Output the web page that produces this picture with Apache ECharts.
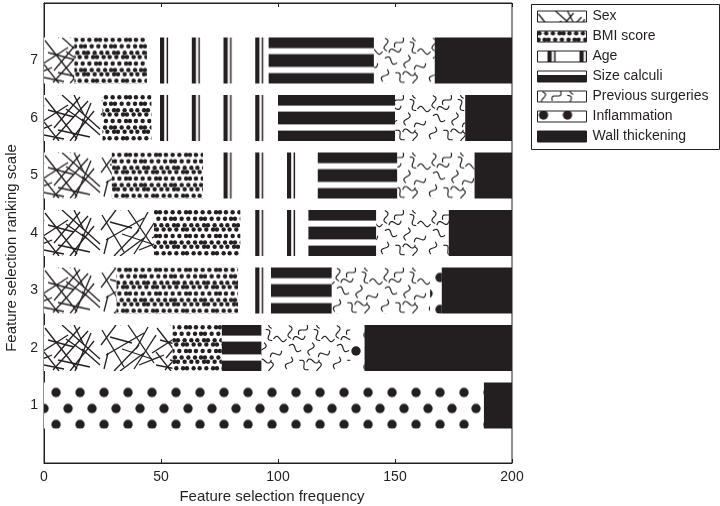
<!DOCTYPE html>
<html>
<head>
<meta charset="utf-8">
<script src="https://cdn.jsdelivr.net/npm/echarts@6/dist/echarts.min.js"></script>
<style>
html,body{margin:0;padding:0;background:#fff;}
#main{width:720px;height:506px;}
</style>
</head>
<body>
<div id="main"></div>
<script>
// ---------- data ----------
const categories = ['1', '2', '3', '4', '5', '6', '7'];
const seriesNames = ['Sex', 'BMI score', 'Age', 'Size calculi', 'Previous surgeries', 'Inflammation', 'Wall thickening'];
const sexValues          = [0, 55, 31, 47, 29, 25, 13];
const bmiValues          = [0, 21, 52, 37, 39, 21, 31];
const ageValues          = [0, 0, 14, 29, 49, 54, 52];
const sizeCalculiValues  = [0, 17, 26, 29, 34, 50, 45];
const prevSurgeryValues  = [0, 38, 42, 31, 33, 30, 26];
const inflammationValues = [188, 6, 5, 0, 0, 0, 0];
const wallValues         = [12, 63, 30, 27, 16, 20, 33];
const xTicks = [0, 50, 100, 150, 200];
const xAxisTitle = 'Feature selection frequency';
const yAxisTitle = 'Feature selection ranking scale';

const allValues = [sexValues, bmiValues, ageValues, sizeCalculiValues, prevSurgeryValues, inflammationValues, wallValues];
const PAD_LO = 'padLo', PAD_HI = 'padHi';
const yAxisData = [PAD_LO].concat(categories, [PAD_HI]);

// ---------- textures ----------
const INK = '#231f20';
const FONT = "'Liberation Sans', Arial, sans-serif";

function makeTile(w, h, draw) {
  const c = document.createElement('canvas');
  c.width = w; c.height = h;
  const g = c.getContext('2d');
  g.fillStyle = '#fff';
  g.fillRect(0, 0, w, h);
  g.strokeStyle = INK; g.fillStyle = INK;
  draw(g, w, h);
  return c;
}
function wrapped(w, h, fn) {
  for (const dx of [-w, 0, w]) for (const dy of [-h, 0, h]) fn(dx, dy);
}

// Sex: random-looking straight lines
const sexSegs = [[1,3,33,44],[9,45,44,6],[18,0,56,34],[-4,28,24,10],[26,46,50,16],
                 [36,2,10,33],[4,15,30,22],[46,42,14,35],[47,8,31,46],[15,46,0,27],
                 [22,14,42,28],[30,0,40,20],[0,40,20,44],[38,24,56,40],
                 [58,5,80,42],[62,30,100,8],[70,46,95,20],[84,0,110,38],[90,44,112,10],
                 [66,12,88,18],[100,28,76,46],[104,2,92,24],[57,20,72,0],[95,40,120,30],
                 [78,24,108,34],[60,44,64,28]];
const sexTile = makeTile(112, 46, (g, w, h) => {
  g.lineWidth = 1.3;
  wrapped(w, h, (dx, dy) => {
    sexSegs.forEach(s => { g.beginPath(); g.moveTo(s[0]+dx, s[1]+dy); g.lineTo(s[2]+dx, s[3]+dy); g.stroke(); });
  });
});

// BMI: dense small dots
const bmiTile = makeTile(30, 46, (g, w, h) => {
  for (let k = 0; k < 8; k++) {
    for (let j = 0; j < 5; j++) {
      const jx = ((j * 5 + k * 3) % 4 - 1.5) * 0.7;
      const jy = ((j * 3 + k * 7) % 3 - 1) * 0.7;
      const x = 3 + 6 * j + (k % 2) * 3 + jx;
      const y = 3 + 5.75 * k + jy;
      wrapped(w, h, (dx, dy) => { g.beginPath(); g.arc(x + dx, y + dy, 2.2, 0, Math.PI * 2); g.fill(); });
    }
  }
});

// Age: vertical stripes (thick black, gap, thin black, wide white)
const ageTile = makeTile(32, 46, (g, w, h) => {
  g.fillRect(0, 0, 4.2, h);
  g.fillRect(6.6, 0, 1.5, h);
});

// Size calculi: black with two white horizontal bands (bar-relative)
const sizeTile = makeTile(4, 46, (g, w, h) => {
  g.fillRect(0, 0, w, 10.6);
  g.fillRect(0, 16.6, w, 12.8);
  g.fillRect(0, 35.6, w, h - 35.6);
});

// Previous surgeries: squiggles
const squiggles = [[6,7,80],[19,5,130],[33,10,60],[11,23,20],[27,24,100],[40,29,150],
                   [5,38,110],[20,40,45],[35,43,85],[44,14,0],[15,13,160],[29,36,170]];
const prevTile = makeTile(48, 46, (g, w, h) => {
  g.lineWidth = 1.15;
  wrapped(w, h, (dx, dy) => {
    squiggles.forEach(s => {
      const a = s[2] * Math.PI / 180;
      const ux = Math.cos(a), uy = Math.sin(a), px = -uy, py = ux;
      g.beginPath();
      for (let t = -6.5; t <= 6.5; t += 0.5) {
        const o = 2.6 * Math.sin(t * Math.PI / 6.5);
        const x = s[0] + dx + ux * t + px * o, y = s[1] + dy + uy * t + py * o;
        if (t === -6.5) g.moveTo(x, y); else g.lineTo(x, y);
      }
      g.stroke();
    });
  });
});

// Inflammation: large staggered dots
const inflTile = makeTile(24, 32, (g) => {
  g.beginPath(); g.arc(6, 10, 4.7, 0, Math.PI * 2); g.fill();
  g.beginPath(); g.arc(18, 26, 4.7, 0, Math.PI * 2); g.fill();
});

function pat(img, x, y, sx) {
  return { image: img, repeat: 'repeat', x: x || 0, y: y || 0, scaleX: sx || 1, scaleY: 1 };
}

// ---------- chart ----------
const chart = echarts.init(document.getElementById('main'), null, { renderer: 'canvas' });

function padded(arr) { return [null].concat(arr, [null]); }

const legendPatterns = [
  pat(sexTile, 0, 0), pat(bmiTile, 0, 0), pat(ageTile, 10, 0),
  { type: 'linear', x: 0, y: 0, x2: 0, y2: 1, colorStops: [
      { offset: 0, color: '#fff' }, { offset: 0.4, color: '#fff' },
      { offset: 0.4, color: INK }, { offset: 1, color: INK }] },
  pat(prevTile, 0, 0), pat(inflTile, 0, -6), INK
];

function buildSeries(geo) {
  return seriesNames.map((name, k) => {
    const data = padded(allValues[k]).map((v, idx) => {
      if (v === null) return '-';
      if (!geo) return v;
      const top = geo.barTop(idx);
      let color;
      switch (k) {
        case 0: color = pat(sexTile, geo.x0, top); break;
        case 1: color = pat(bmiTile, geo.x0, top); break;
        case 2: color = pat(ageTile, geo.x0 + 116, top, 31.75 / 32); break;
        case 3: color = pat(sizeTile, 0, top); break;
        case 4: color = pat(prevTile, geo.x0, top); break;
        case 5: color = pat(inflTile, geo.x0 + 6, top); break;
        default: color = INK;
      }
      return { value: v, itemStyle: { color: color } };
    });
    return {
      name: name,
      type: 'bar',
      stack: 'total',
      barWidth: '80%',
      itemStyle: { color: legendPatterns[k] },
      data: data
    };
  });
}

const option = {
  animation: false,
  backgroundColor: '#fff',
  textStyle: { fontFamily: FONT, color: INK },
  grid: { left: 44, right: 208, top: 3, bottom: 43, containLabel: false, outerBoundsMode: 'none',
          show: true, borderColor: INK, borderWidth: 1, backgroundColor: 'transparent' },
  legend: {
    orient: 'vertical', left: 537, top: 9.5, padding: 0,
    itemWidth: 49, itemHeight: 11, itemGap: 6,
    icon: 'rect',
    textStyle: { fontFamily: FONT, fontSize: 14, color: INK, padding: [0, 0, 0, 1] },
    itemStyle: { borderColor: INK, borderWidth: 1 },
    selectedMode: false,
    data: seriesNames.map((n, k) => ({ name: n, itemStyle: { color: legendPatterns[k] } }))
  },
  graphic: [{
    type: 'rect', left: 529, top: 2, shape: { x: 0.5, y: 0.5, width: 188, height: 145 },
    style: { fill: 'none', stroke: INK, lineWidth: 1 }, silent: true
  }],
  xAxis: [{
    type: 'value', min: xTicks[0], max: xTicks[xTicks.length - 1], interval: xTicks[1] - xTicks[0],
    position: 'bottom',
    name: xAxisTitle, nameLocation: 'middle', nameGap: 25,
    nameTextStyle: { fontFamily: FONT, fontSize: 15, color: INK, padding: [0, 12, 0, 0] },
    axisLine: { show: true, lineStyle: { color: INK, width: 1 } },
    axisTick: { show: true, inside: true, length: 4, lineStyle: { color: INK } },
    axisLabel: { fontFamily: FONT, fontSize: 14, color: INK, margin: 7 },
    splitLine: { show: false }
  }, {
    type: 'value', min: xTicks[0], max: xTicks[xTicks.length - 1], interval: xTicks[1] - xTicks[0],
    position: 'top',
    axisLine: { show: true, lineStyle: { color: INK, width: 1 } },
    axisTick: { show: true, inside: true, length: 4, lineStyle: { color: INK } },
    axisLabel: { show: false },
    splitLine: { show: false }
  }],
  yAxis: {
    type: 'category', data: yAxisData, boundaryGap: false,
    name: yAxisTitle, nameLocation: 'middle', nameGap: 23,
    nameTextStyle: { fontFamily: FONT, fontSize: 15, color: INK, padding: [0, 30, 0, 0] },
    axisLine: { show: true, lineStyle: { color: INK, width: 1 } },
    axisTick: { show: true, inside: true, length: 4, lineStyle: { color: INK },
      interval: (i, v) => v !== PAD_LO && v !== PAD_HI },
    axisLabel: { fontFamily: FONT, fontSize: 14, color: INK, margin: 6,
      interval: 0, formatter: v => (v === PAD_LO || v === PAD_HI) ? '' : v },
    splitLine: { show: false }
  },
  series: buildSeries(null)
};

chart.setOption(option);

// Align texture phases to each bar using the library's own scales
const x0 = chart.convertToPixel({ xAxisIndex: 0 }, 0);
const cA = chart.convertToPixel({ yAxisIndex: 0 }, 0);
const cB = chart.convertToPixel({ yAxisIndex: 0 }, 1);
const band = Math.abs(cB - cA);
const geo = {
  x0: x0,
  barTop: idx => chart.convertToPixel({ yAxisIndex: 0 }, idx) - band * 0.4
};
chart.setOption({ series: buildSeries(geo) });
</script>
</body>
</html>
